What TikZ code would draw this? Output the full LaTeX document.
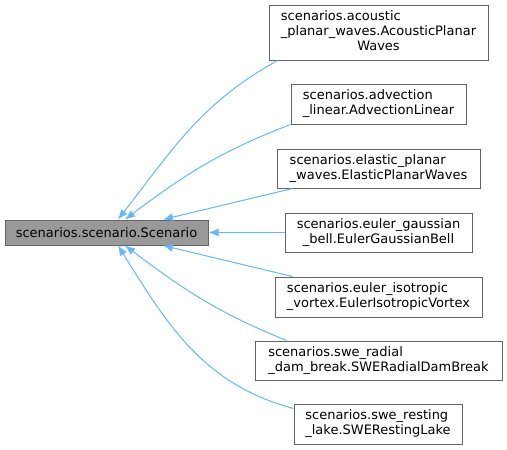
\documentclass[tikz,border=0pt]{standalone}
\usepackage{fontspec}
\setmainfont{DejaVu Sans}
\usepackage{tikz}
\usetikzlibrary{arrows.meta,positioning}

\definecolor{edgeblue}{RGB}{99,184,255}
\definecolor{boxgray}{RGB}{102,102,102}
\definecolor{basegray}{RGB}{153,153,153}

% lines left, last line centred
\newcommand{\clsname}[2]{\begin{tabular}{@{}l@{}}#1\\\multicolumn{1}{@{}c@{}}{#2}\end{tabular}}

\begin{document}
\begin{tikzpicture}[x=1pt,y=1pt,line width=1pt,font=\fontsize{13}{15}\selectfont]
\tikzstyle{cls} = [draw=boxgray, fill=white, shape=rectangle, inner sep=0pt]
\tikzstyle{edge} = [draw=edgeblue, -{Latex[length=10pt,width=8pt]}]

\useasboundingbox (0,0) rectangle (507,-450);

% Base class
\node [cls, fill=basegray, minimum width=203pt, minimum height=25pt] at (106.5,-232.5) (base) {scenarios.scenario.Scenario};

% Derived classes
\node [cls, minimum width=219pt, minimum height=55pt] at (378.5,-32.5) (acoustic) {\clsname{scenarios.acoustic\\\_planar\_waves.AcousticPlanar}{Waves}};
\node [cls, minimum width=175pt, minimum height=40pt] at (378.5,-104) (advection) {\clsname{scenarios.advection}{\_linear.AdvectionLinear}};
\node [cls, minimum width=203pt, minimum height=39pt] at (378.5,-168.5) (elastic) {\clsname{scenarios.elastic\_planar}{\_waves.ElasticPlanarWaves}};
\node [cls, minimum width=187pt, minimum height=39pt] at (378.5,-232.5) (gaussian) {\clsname{scenarios.euler\_gaussian}{\_bell.EulerGaussianBell}};
\node [cls, minimum width=207pt, minimum height=40pt] at (378.5,-297) (vortex) {\clsname{scenarios.euler\_isotropic}{\_vortex.EulerIsotropicVortex}};
\node [cls, minimum width=247pt, minimum height=39pt] at (378.5,-360.5) (dambreak) {\clsname{scenarios.swe\_radial}{\_dam\_break.SWERadialDamBreak}};
\node [cls, minimum width=168pt, minimum height=40pt] at (378,-424) (lake) {\clsname{scenarios.swe\_resting}{\_lake.SWERestingLake}};

% Inheritance arrows
\draw [edge] ([xshift=9pt]acoustic.south west) to[out=209,in=52] ([xshift=11.5pt]base.north);
\draw [edge] (advection.south west) to[out=201,in=37] ([xshift=18.5pt]base.north);
\draw [edge] ([xshift=16pt]elastic.south west) -- ([xshift=56.5pt]base.north);
\draw [edge] (gaussian.west) -- (base.east);
\draw [edge] ([xshift=18pt]vortex.north west) -- ([xshift=56.5pt]base.south);
\draw [edge] ([xshift=32pt]dambreak.north west) to[out=158,in=-37] ([xshift=18.5pt]base.south);
\draw [edge] ([yshift=-5pt]lake.north west) to[out=165,in=-58] ([xshift=11.5pt]base.south);

\end{tikzpicture}
\end{document}
